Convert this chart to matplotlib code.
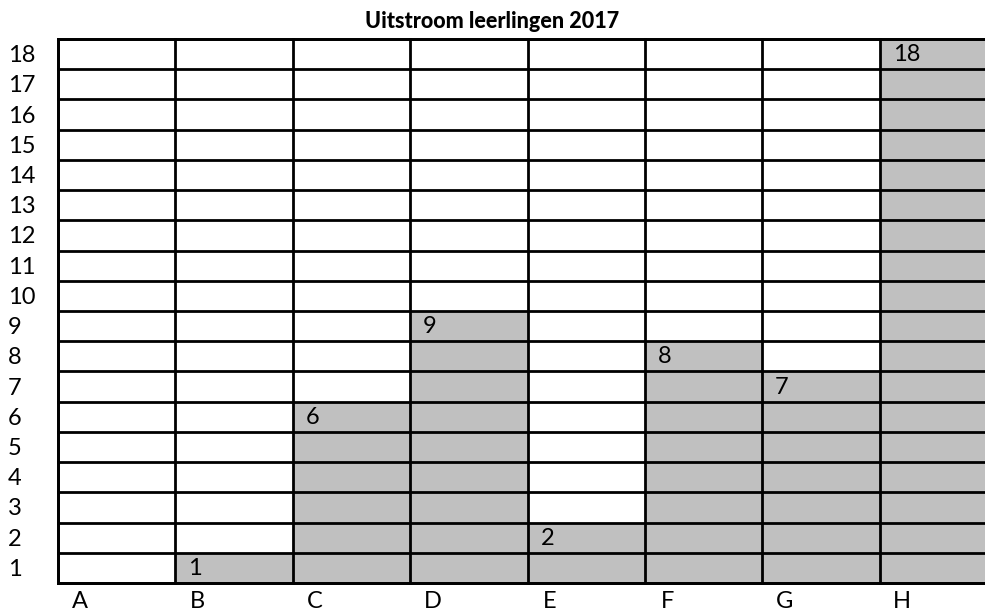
import matplotlib.pyplot as plt

# data
kolommen = ['A', 'B', 'C', 'D', 'E', 'F', 'G', 'H']
aantal = [0, 1, 6, 9, 2, 8, 7, 18]
rijen = list(range(1, 19))

plt.rcParams['font.family'] = ['Lato', 'DejaVu Sans']

W, H = 985, 610
fig = plt.figure(figsize=(W / 100, H / 100), dpi=100)
# grid runs past the right edge of the picture, as in the original
left, right, top, bottom = 58, 997, 39, 583
ax = fig.add_axes([left / W, (H - bottom) / H, (right - left) / W, (bottom - top) / H])

x = list(range(len(kolommen)))
ax.bar(x, aantal, width=1, align='edge', color='#c0c0c0', zorder=1)

ax.set_xlim(0, len(kolommen))
ax.set_ylim(0, len(rijen))

# cell lines
for i in range(len(kolommen) + 1):
    ax.axvline(i, color='black', lw=2.0, zorder=3, clip_on=False)
for j in range(len(rijen) + 1):
    ax.axhline(j, color='black', lw=2.0, zorder=3, clip_on=False)
for s in ax.spines.values():
    s.set_linewidth(2.0)

ax.set_xticks([])
ax.set_yticks([])

# value labels in the top cell
for i, v in enumerate(aantal):
    if v > 0:
        ax.text(i + 0.11, v - 0.52, str(v), fontsize=17, ha='left', va='center', zorder=4)

# column labels
for i, k in enumerate(kolommen):
    ax.text(i + 0.19, -0.6, k, fontsize=17, ha='center', va='center', clip_on=False)

# row labels
for r in rijen:
    ax.text(-50 / (right - left) * len(kolommen), r - 0.55, str(r), fontsize=17,
            ha='left', va='center', clip_on=False)

fig.text(492 / W, 1 - 22 / H, 'Uitstroom leerlingen 2017', fontsize=15.5,
         fontweight='black', ha='center', va='center')

fig.savefig('out.png', dpi=100)
